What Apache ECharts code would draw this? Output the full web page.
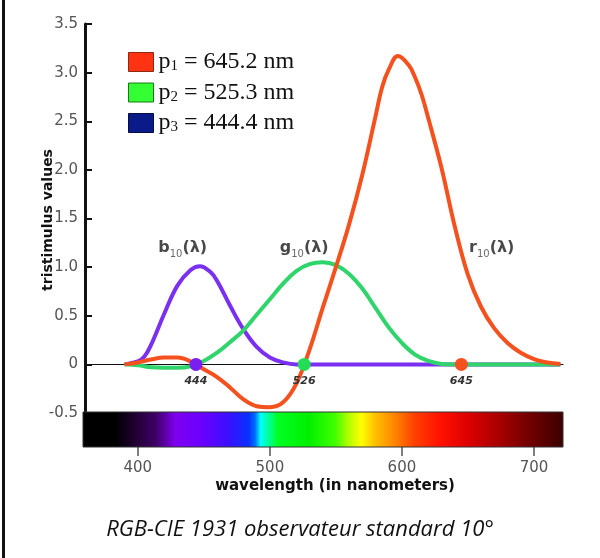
<!DOCTYPE html>
<html><head><meta charset="utf-8">
<script src="https://cdn.jsdelivr.net/npm/echarts@6/dist/echarts.min.js"></script>
<style>html,body{margin:0;padding:0;background:#fff}#c{width:600px;height:558px}</style>
</head><body><div id="c"></div>
<script>
// wavelengths (nm) and colour-matching values
const bWavelengths = [390,400,405,410,420,430,440,447,455,460,470,480,490,500,510,520,540,560,580,600,620,640,660,680,700,720];
const b10 = [0,0.03,0.08,0.2,0.52,0.81,0.97,1.01,0.95,0.86,0.6,0.36,0.18,0.07,0.02,0,0,0,0,0,0,0,0,0,0,0];
const gWavelengths = [390,400,410,420,430,440,450,460,470,480,490,500,510,520,530,540,550,560,570,580,590,600,610,620,630,640,660,680,700,720];
const g10 = [0,-0.01,-0.03,-0.035,-0.035,-0.02,0.035,0.12,0.23,0.35,0.51,0.67,0.83,0.96,1.03,1.05,1.02,0.93,0.78,0.58,0.38,0.22,0.10,0.035,0.005,0,0,0,0,0];
const rWavelengths = [390,400,410,420,430,440,450,460,470,480,490,500,510,520,530,540,550,560,570,580,585,590,597,605,610,615,620,630,640,650,660,670,680,690,700,710,720];
const r10 = [0,0.02,0.05,0.07,0.07,0.03,-0.05,-0.13,-0.24,-0.36,-0.43,-0.44,-0.39,-0.2,0.15,0.58,1.0,1.44,1.95,2.55,2.85,3.03,3.17,3.08,2.95,2.77,2.53,2.02,1.42,0.92,0.59,0.37,0.22,0.12,0.055,0.02,0.005];

// primaries
const primaryNames = ['p1','p2','p3'];
const primarySub = ['1','2','3'];
const primaryValues = ['645.2','525.3','444.4'];
const primaryWavelengths = [645,526,444];
const primaryLabels = ['645','526','444'];

// curve labels
const curveLabelNames = ['b','g','r'];
const curveLabelX = [434,526,668];
const curveLabelY = [1.2,1.2,1.2];

const xTickValues = [400,500,600,700];

// spectrum colour stops
const spectrumL = [360,385,400,415,430,450,470,485,490,494,500,507,530,550,560,570,580,596,610,630,650,670,690,710,722];
const spectrumC = ['#000000','#000000','#220033','#3d0066','#7f00f0','#6a00ff','#3a10ff','#0a30ff','#0070ff','#00ffff','#00ff99','#00ff22','#00f000','#40ff00','#b0ff00','#ffff00','#ffc000','#ff8000','#ff4000','#ff1000','#dd0000','#b00000','#800000','#540000','#3a0000'];

const X_MIN = 360, X_MAX = 722;
const zip = (xs, ys) => xs.map((x, i) => [x, ys[i]]);

const lineColors = {b:'#7b2ff0', g:'#2fd46a', r:'#f4511e'};
const dotColors = ['#f4511e','#22dd55','#7a1ff0'];
const legendColors = [['#ff3311','#8a2a10'],['#33ff33','#1a7a1a'],['#0a1a88','#050d44']];

const stops = spectrumL.map((l, i) => ({offset:(l - X_MIN)/(X_MAX - X_MIN), color:spectrumC[i]}));

const chart = echarts.init(document.getElementById('c'), null, {renderer:'canvas'});

const series = [];
series.push({type:'line', name:'b10', xAxisIndex:0, yAxisIndex:0, data:zip(bWavelengths,b10), smooth:0.4, showSymbol:false, lineStyle:{width:4, color:lineColors.b}, z:2, silent:true});
series.push({type:'line', name:'g10', xAxisIndex:0, yAxisIndex:0, data:zip(gWavelengths,g10), smooth:0.4, showSymbol:false, lineStyle:{width:4, color:lineColors.g}, z:3, silent:true});
series.push({type:'line', name:'r10', xAxisIndex:0, yAxisIndex:0, data:zip(rWavelengths,r10), smooth:0.4, showSymbol:false, lineStyle:{width:4, color:lineColors.r}, z:4, silent:true});
primaryNames.forEach((n, i) => {
  series.push({type:'scatter', name:n, xAxisIndex:0, yAxisIndex:0, data:[[primaryWavelengths[i],0]], symbolSize:13, itemStyle:{color:dotColors[i], opacity:1}, z:6,
    label:{show:true, position:'bottom', distance:5, formatter:primaryLabels[i], fontFamily:'DejaVu Sans', fontWeight:'bold', fontStyle:'italic', fontSize:11, color:'#333'}});
});
series.push({type:'scatter', name:'curveLabels', xAxisIndex:0, yAxisIndex:0, symbolSize:0, silent:true,
  data: curveLabelNames.map((n,i) => ({value:[curveLabelX[i], curveLabelY[i]], name:n})),
  label:{show:true, position:'inside', formatter: p => `{m|${p.name}}{s|10}{m|(λ)}`,
    rich:{m:{fontFamily:'DejaVu Sans', fontWeight:'bold', fontSize:16, color:'#1a1a1a', lineHeight:24, verticalAlign:'middle'},
          s:{fontFamily:'DejaVu Sans', fontSize:10, color:'#444', lineHeight:12, verticalAlign:'bottom'}}}});
series.push({type:'custom', name:'spectrum', xAxisIndex:1, yAxisIndex:1, data:[[X_MIN, X_MAX]], silent:true,
  renderItem:(params, api) => {
    const p0 = api.coord([api.value(0), 1]);
    const p1 = api.coord([api.value(1), 0]);
    return {type:'rect', shape:{x:p0[0]-2, y:p0[1], width:p1[0]-p0[0]+2, height:p1[1]-p0[1]},
      style:{fill:new echarts.graphic.LinearGradient(0,0,1,0,stops), stroke:'#333', lineWidth:1}};
  }});

chart.setOption({
  animation:false,
  backgroundColor:'#fff',
  grid:[{left:85, right:37, top:24, bottom:145},{left:85, right:37, top:412, height:35}],
  xAxis:[
    {type:'value', gridIndex:0, min:X_MIN, max:X_MAX, axisLine:{show:true, onZero:true, lineStyle:{color:'#111', width:1.2}}, axisTick:{show:false}, axisLabel:{show:false}, splitLine:{show:false}},
    {type:'value', gridIndex:1, min:X_MIN, max:X_MAX, position:'bottom', axisLine:{show:false},
      axisTick:{show:true, length:9, lineStyle:{color:'#555', width:1.5}, customValues:xTickValues},
      axisLabel:{show:true, customValues:xTickValues, margin:14, fontFamily:'DejaVu Sans', fontSize:15, color:'#555'}, splitLine:{show:false}}
  ],
  yAxis:[
    {type:'value', gridIndex:0, min:-0.5, max:3.5, interval:0.5,
      axisLine:{show:true, onZero:false, lineStyle:{color:'#111', width:3}},
      axisTick:{show:true, inside:true, length:7, lineStyle:{color:'#111', width:2}},
      axisLabel:{margin:7, fontFamily:'DejaVu Sans', fontSize:15, color:'#555', formatter:v => v === 0 ? '0' : v.toFixed(1)},
      splitLine:{show:false}},
    {type:'value', gridIndex:1, min:0, max:1, show:false}
  ],
  legend:{orient:'vertical', left:123, top:45, itemWidth:25, itemHeight:19, itemGap:6.5, selectedMode:false,
    data: primaryNames.map((n,i) => ({name:n, icon:'rect', itemStyle:{color:legendColors[i][0], borderColor:legendColors[i][1], borderWidth:1, opacity:1}})),
    formatter: name => { const i = primaryNames.indexOf(name); return `{m|p}{s|${primarySub[i]}}{m| = ${primaryValues[i]} nm}`; },
    textStyle:{rich:{m:{fontFamily:'Liberation Serif', fontSize:24, color:'#111', lineHeight:24, verticalAlign:'middle'},
                     s:{fontFamily:'Liberation Serif', fontSize:15, color:'#111', lineHeight:8, verticalAlign:'bottom'}}}},
  graphic:[
    {type:'rect', shape:{x:2, y:0, width:3, height:558}, style:{fill:'#111'}},
    {type:'text', x:48, y:220, rotation:Math.PI/2, style:{text:'tristimulus values', font:'bold 14px "DejaVu Sans"', fill:'#111', textAlign:'center', textVerticalAlign:'middle'}},
    {type:'text', x:335, y:486, style:{text:'wavelength (in nanometers)', font:'bold 15px "DejaVu Sans"', fill:'#111', textAlign:'center', textVerticalAlign:'middle'}},
    {type:'text', x:300, y:530, style:{text:'RGB-CIE 1931 observateur standard 10°', font:'italic 22px "Open Sans"', fill:'#111', textAlign:'center', textVerticalAlign:'middle'}}
  ],
  series
});
</script></body></html>
